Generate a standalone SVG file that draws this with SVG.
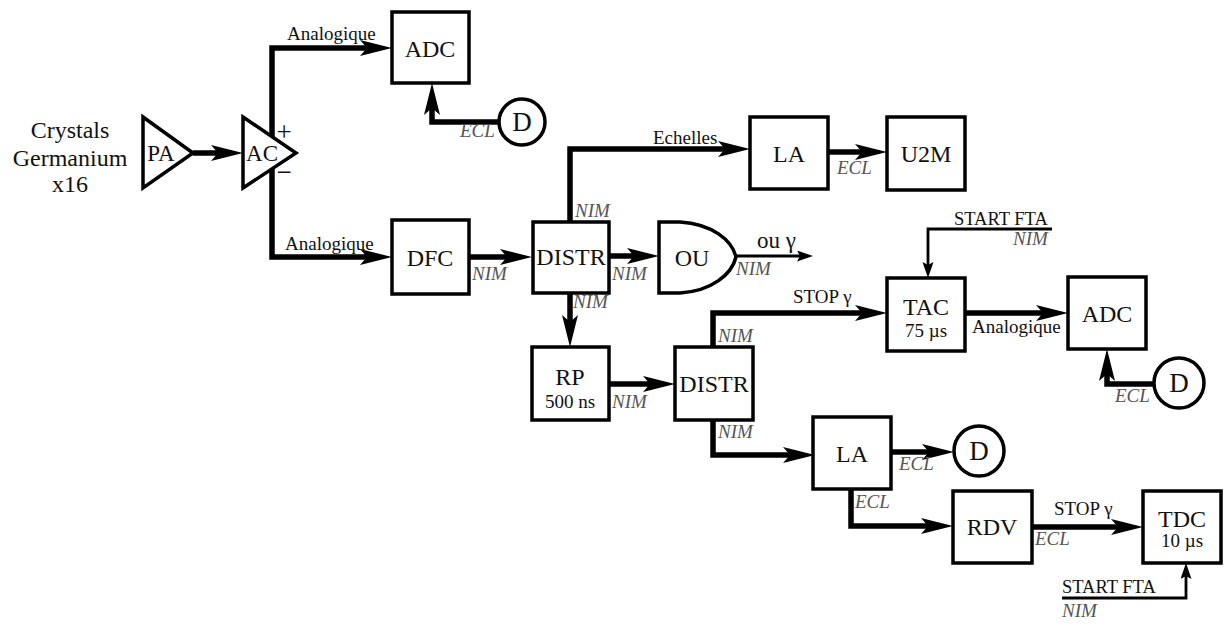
<svg xmlns="http://www.w3.org/2000/svg" width="1226" height="624" viewBox="0 0 1226 624" font-family="'Liberation Serif', 'DejaVu Serif', serif">
<style>
text{font-family:'Liberation Serif','DejaVu Serif',serif;fill:#111}
.box{fill:#fff;stroke:#000;stroke-width:3.5}
.big{font-size:24px;text-anchor:middle}
.dd{font-size:27px;text-anchor:middle}
.sm{font-size:19px;text-anchor:middle}
.lab{font-size:19px}
.it{font-size:19px;font-style:italic;fill:#555}
.thick{fill:none;stroke:#000;stroke-width:5.5;marker-end:url(#ah)}
.thin{fill:none;stroke:#000;stroke-width:2.8;marker-end:url(#ahs)}
</style>
<defs>
<marker id="ah" markerUnits="userSpaceOnUse" markerWidth="36" markerHeight="22" refX="8" refY="9" orient="auto">
<path d="M0,1 L32,9 L0,17 L7,9 Z" fill="#000"/>
</marker>
<marker id="ahs" markerUnits="userSpaceOnUse" markerWidth="20" markerHeight="14" refX="4" refY="5.5" orient="auto">
<path d="M0,0 L16,5.5 L0,11 L3,5.5 Z" fill="#000"/>
</marker>
</defs>

<g id="connectors">
<path class="thick" d="M193,153 H219"/>
<path class="thick" d="M272,137 V48 H368"/>
<path class="thick" d="M272,168 V257 H368"/>
<path class="thick" d="M500,122 H432 V107"/>
<path class="thick" d="M469,257 H508"/>
<path class="thick" d="M570,222 V149 H726"/>
<path class="thick" d="M828,152 H863"/>
<path class="thick" d="M609,256 H635"/>
<path class="thin" d="M736,256 H801"/>
<path class="thick" d="M570,293 V323"/>
<path class="thick" d="M609,384 H651"/>
<path class="thick" d="M713,347 V313 H863"/>
<path class="thin" d="M1052,229 H928 V266"/>
<path class="thick" d="M965,313 H1044"/>
<path class="thick" d="M1155,384 H1107 V373"/>
<path class="thick" d="M713,420 V455 H791"/>
<path class="thick" d="M891,452 H930"/>
<path class="thick" d="M851,489 V526 H929"/>
<path class="thick" d="M1032,527 H1119"/>
<path class="thin" d="M1062,598 H1186 V575"/>
</g>

<g id="labels">
<text class="lab" x="287" y="40">Analogique</text>
<text class="it" x="460" y="137">ECL</text>
<text class="lab" x="285" y="250">Analogique</text>
<text class="it" x="472" y="280">NIM</text>
<text class="lab" x="653" y="144">Echelles</text>
<text class="it" x="575" y="217">NIM</text>
<text class="it" x="837" y="174">ECL</text>
<text class="it" x="612" y="280">NIM</text>
<text x="757" y="248" style="font-size:23px">ou γ</text>
<text class="it" x="736" y="275">NIM</text>
<text class="it" x="573" y="308">NIM</text>
<text class="it" x="612" y="408">NIM</text>
<text class="it" x="718" y="342">NIM</text>
<text class="lab" x="793" y="303">STOP γ</text>
<text class="it" x="718" y="438">NIM</text>
<text class="lab" x="954" y="225" style="font-size:18.5px">START FTA</text>
<text class="it" x="1013" y="245">NIM</text>
<text class="lab" x="972" y="333">Analogique</text>
<text class="it" x="1115" y="402">ECL</text>
<text class="it" x="899" y="470">ECL</text>
<text class="it" x="855" y="508">ECL</text>
<text class="lab" x="1054" y="515">STOP γ</text>
<text class="it" x="1035" y="545">ECL</text>
<text class="lab" x="1062" y="593" style="font-size:18.5px">START FTA</text>
<text class="it" x="1062" y="617">NIM</text>
</g>

<g id="source">
<text class="big" x="70" y="138">Crystals</text>
<text class="big" x="70" y="166">Germanium</text>
<text class="big" x="70" y="192">x16</text>
</g>

<g id="PA">
<path class="box" d="M143,117 L193,153 L143,188 Z"/>
<text class="big" x="161" y="161" style="font-size:23px">PA</text>
</g>

<g id="AC">
<path class="box" d="M243,117 L296,153 L243,188 Z"/>
<text class="big" x="262" y="161" style="font-size:23px">AC</text>
<text class="big" x="284" y="141" style="font-size:27px">+</text>
<text class="big" x="284" y="181" style="font-size:27px">−</text>
</g>

<g id="ADC1"><rect class="box" x="392" y="12" width="77" height="71"/><text class="big" x="430" y="57">ADC</text></g>
<g id="D1"><circle class="box" cx="522" cy="122" r="23"/><text class="dd" x="522" y="131">D</text></g>
<g id="DFC"><rect class="box" x="392" y="220" width="77" height="74"/><text class="big" x="430" y="266">DFC</text></g>
<g id="DISTR1"><rect class="box" x="533" y="222" width="76" height="71"/><text class="big" x="571" y="265">DISTR</text></g>
<g id="LA1"><rect class="box" x="750" y="117" width="78" height="72"/><text class="big" x="789" y="162">LA</text></g>
<g id="U2M"><rect class="box" x="887" y="117" width="78" height="73"/><text class="big" x="926" y="162">U2M</text></g>
<g id="OU"><path class="box" d="M659,222 H680 C712,224 732,240 736,257 C732,274 712,291 680,293 H659 Z"/><text class="big" x="692" y="266">OU</text></g>
<g id="RP"><rect class="box" x="532" y="347" width="77" height="73"/><text class="big" x="570" y="385">RP</text><text class="sm" x="570" y="408">500 ns</text></g>
<g id="DISTR2"><rect class="box" x="675" y="347" width="78" height="73"/><text class="big" x="714" y="392">DISTR</text></g>
<g id="TAC"><rect class="box" x="887" y="278" width="78" height="73"/><text class="big" x="926" y="315">TAC</text><text class="sm" x="926" y="337">75 µs</text></g>
<g id="ADC2"><rect class="box" x="1068" y="277" width="78" height="72"/><text class="big" x="1107" y="322">ADC</text></g>
<g id="D2"><circle class="box" cx="1179" cy="383" r="25"/><text class="dd" x="1179" y="392">D</text></g>
<g id="LA2"><rect class="box" x="813" y="417" width="78" height="72"/><text class="big" x="852" y="462">LA</text></g>
<g id="D3"><circle class="box" cx="979" cy="451" r="25"/><text class="dd" x="979" y="460">D</text></g>
<g id="RDV"><rect class="box" x="953" y="491" width="79" height="72"/><text class="big" x="992" y="535">RDV</text></g>
<g id="TDC"><rect class="box" x="1143" y="491" width="78" height="72"/><text class="big" x="1182" y="527">TDC</text><text class="sm" x="1182" y="547">10 µs</text></g>
</svg>
